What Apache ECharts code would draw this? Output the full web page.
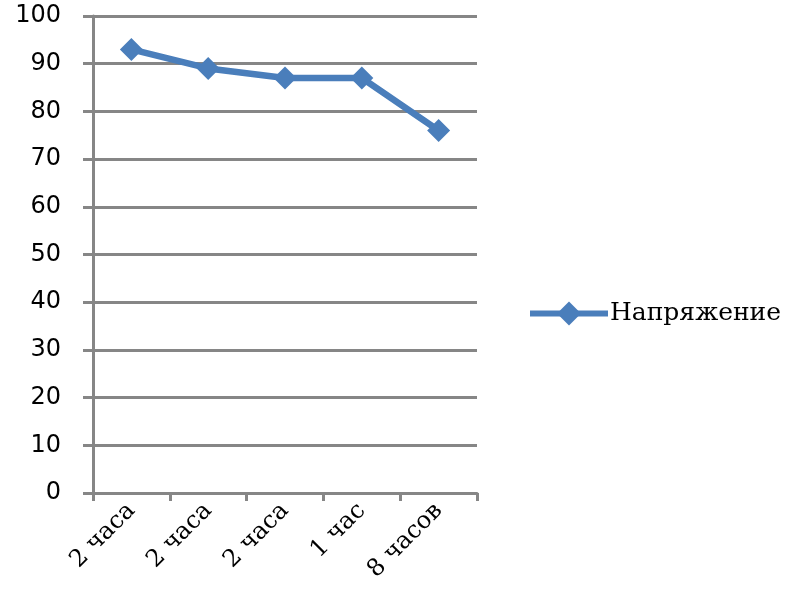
<!DOCTYPE html>
<html><head><meta charset="utf-8">
<script src="https://cdn.jsdelivr.net/npm/echarts@6/dist/echarts.min.js"></script>
<style>html,body{margin:0;padding:0;background:#fff}#c{width:790px;height:600px}</style>
</head><body><div id="c"></div>
<script>
const categories = ['2 часа', '2 часа', '2 часа', '1 час', '8 часов'];
const seriesName = 'Напряжение';
const values = [93, 89, 87, 87, 76];

const chart = echarts.init(document.getElementById('c'), null, {renderer: 'canvas'});
chart.setOption({
  animation: false,
  backgroundColor: '#fff',
  grid: {left: 93, right: 313, top: 16, bottom: 107, containLabel: false},
  legend: {
    data: [seriesName], left: 522, top: 296, orient: 'vertical',
    itemWidth: 78, itemHeight: 30, itemGap: 0,
    lineStyle: {width: 6, color: '#4a7ebb'},
    textStyle: {fontFamily: 'DejaVu Serif', fontSize: 25, color: '#000', padding: [0, 0, 0, -3]}
  },
  xAxis: {
    type: 'category', data: categories, boundaryGap: true,
    axisLine: {lineStyle: {color: '#868686', width: 3}},
    axisTick: {show: true, length: 8, alignWithLabel: false, lineStyle: {color: '#868686', width: 3}},
    axisLabel: {rotate: 45, fontFamily: 'DejaVu Serif', fontSize: 24, color: '#000', margin: 14, interval: 0},
    splitLine: {show: false}
  },
  yAxis: {
    type: 'value', min: 0, max: 100, interval: 10,
    axisLine: {show: true, lineStyle: {color: '#868686', width: 3}},
    axisTick: {show: true, length: 10, lineStyle: {color: '#868686', width: 3}},
    axisLabel: {fontFamily: 'DejaVu Sans', fontSize: 24, color: '#000', margin: 32},
    splitLine: {show: true, lineStyle: {color: '#868686', width: 3}}
  },
  series: [{
    name: seriesName, type: 'line', data: values,
    symbol: 'diamond', symbolSize: 23,
    lineStyle: {color: '#4a7ebb', width: 6.5},
    itemStyle: {color: '#4a7ebb'}
  }]
});
</script></body></html>
